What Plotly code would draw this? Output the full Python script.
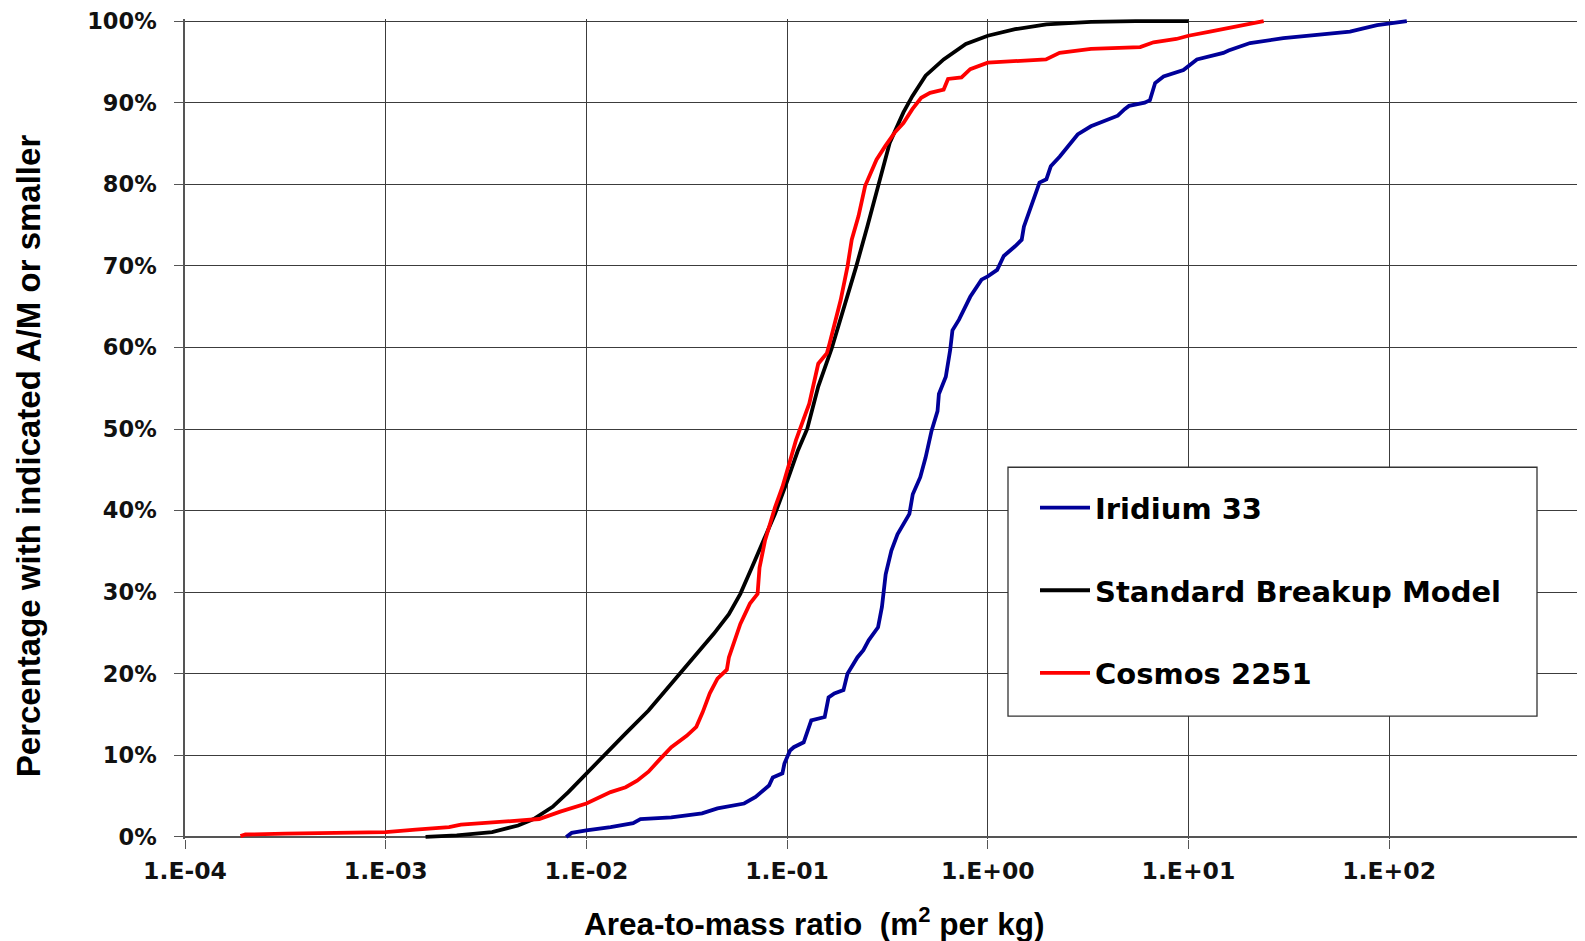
import plotly.graph_objects as go

# ---- data ----
x_tick_vals = [1e-4, 1e-3, 1e-2, 1e-1, 1e0, 1e1, 1e2]
x_tick_text = ["1.E-04", "1.E-03", "1.E-02", "1.E-01", "1.E+00", "1.E+01", "1.E+02"]
y_tick_vals = [0, 10, 20, 30, 40, 50, 60, 70, 80, 90, 100]
y_tick_text = ["0%", "10%", "20%", "30%", "40%", "50%", "60%", "70%", "80%", "90%", "100%"]

iridium_x = [7.93e-3, 8.45e-3, 1.0e-2, 1.32e-2, 1.71e-2, 1.86e-2, 2.65e-2, 3.77e-2, 4.50e-2,
             6.11e-2, 6.97e-2, 8.13e-2, 8.49e-2, 9.48e-2, 9.70e-2, 0.1035, 0.108, 0.121, 0.132,
             0.154, 0.161, 0.172, 0.191, 0.200, 0.224, 0.240, 0.255, 0.284, 0.297, 0.310, 0.331,
             0.355, 0.407, 0.423, 0.461, 0.490, 0.525, 0.562, 0.571, 0.618, 0.650, 0.667, 0.719,
             0.818, 0.931, 1.0, 1.114, 1.202, 1.368, 1.476, 1.514, 1.637, 1.722, 1.811, 1.959,
             2.061, 2.286, 2.529, 2.805, 3.266, 4.446, 4.808, 5.058, 6.053, 6.427, 6.823, 7.516,
             9.441, 11.02, 14.93, 15.85, 20.28, 29.72, 43.65, 63.83, 74.47, 87.10, 101.2, 122.5]
iridium_y = [0, 0.5, 0.8, 1.2, 1.7, 2.2, 2.4, 2.9, 3.5,
             4.1, 4.9, 6.3, 7.3, 7.8, 9.0, 10.6, 11.0, 11.6, 14.3,
             14.7, 17.1, 17.6, 18.0, 20.0, 22.0, 22.9, 24.1, 25.7, 28.2, 32.2, 35.1,
             37.1, 39.6, 42.0, 44.1, 46.5, 49.8, 52.2, 54.3, 56.4, 59.7, 62.1, 63.4,
             66.2, 68.3, 68.7, 69.5, 71.2, 72.4, 73.2, 74.8, 77.3, 78.9, 80.2, 80.6,
             82.2, 83.4, 84.7, 86.1, 87.1, 88.4, 89.2, 89.6, 90.0, 90.3, 92.4, 93.2,
             94.0, 95.3, 96.1, 96.4, 97.3, 97.9, 98.3, 98.7, 99.1, 99.5, 99.7, 100]

model_x = [1.58e-3, 2.26e-3, 3.39e-3, 4.57e-3, 5.46e-3, 6.79e-3, 8.13e-3, 1.0e-2, 1.20e-2,
           1.57e-2, 2.04e-2, 2.65e-2, 3.47e-2, 4.31e-2, 5.13e-2, 5.85e-2, 6.67e-2, 7.62e-2,
           8.71e-2, 9.91e-2, 0.113, 0.126, 0.143, 0.167, 0.195, 0.221, 0.251, 0.286, 0.325,
           0.380, 0.421, 0.490, 0.603, 0.778, 1.0, 1.37, 1.96, 3.27, 5.46, 10.0]
model_y = [0, 0.2, 0.6, 1.4, 2.2, 3.7, 5.5, 7.8, 9.8,
           12.7, 15.5, 18.8, 22.2, 24.9, 27.3, 29.8, 33.0, 36.3,
           39.6, 43.3, 47.3, 50.0, 55.2, 59.9, 65.4, 69.9, 74.8, 80.2, 85.1,
           88.8, 90.8, 93.3, 95.3, 97.2, 98.2, 99.0, 99.6, 99.9, 100, 100]

cosmos_x = [1.89e-4, 2.0e-4, 3.16e-4, 5.01e-4, 1.0e-3, 1.41e-3, 2.07e-3, 2.37e-3, 3.52e-3,
            5.82e-3, 7.41e-3, 1.0e-2, 1.32e-2, 1.57e-2, 1.79e-2, 2.04e-2, 2.34e-2, 2.65e-2,
            3.16e-2, 3.53e-2, 3.80e-2, 4.12e-2, 4.50e-2, 5.01e-2, 5.13e-2, 5.85e-2, 6.53e-2,
            7.13e-2, 7.29e-2, 7.76e-2, 8.71e-2, 9.48e-2, 0.1035, 0.1107, 0.120, 0.129, 0.143,
            0.158, 0.163, 0.185, 0.200, 0.210, 0.227, 0.245, 0.251, 0.279, 0.309, 0.343, 0.380,
            0.421, 0.466, 0.516, 0.603, 0.634, 0.740, 0.818, 1.0, 1.95, 2.28, 3.27, 5.75, 6.70,
            8.71, 10.0, 12.8, 17.4, 23.7]
cosmos_y = [0.1, 0.3, 0.4, 0.45, 0.6, 0.9, 1.2, 1.5, 1.8,
            2.2, 3.1, 4.1, 5.5, 6.1, 6.9, 8.0, 9.6, 11.0,
            12.4, 13.5, 15.3, 17.6, 19.4, 20.5, 22.0, 26.1, 28.6,
            29.8, 33.0, 36.3, 40.4, 42.9, 46.1, 48.6, 51.0, 53.1, 58.0,
            59.3, 60.5, 65.8, 69.9, 73.2, 76.1, 79.8, 80.4, 83.0, 84.7, 86.3, 87.5,
            89.2, 90.6, 91.2, 91.6, 92.9, 93.1, 94.1, 94.9, 95.3, 96.1, 96.6, 96.8, 97.4,
            97.8, 98.2, 98.7, 99.4, 100]

series_names = ["Iridium 33", "Standard Breakup Model", "Cosmos 2251"]
series_colors = ["#000099", "#000000", "#ff0000"]

# ---- figure ----
# The page body has an 8px margin, so the figure is 8px smaller than the window.
OFF = 8
W, H = 1585 - OFF, 941 - OFF
ML, MR, MT, MB = 185 - OFF, 0, 18.5 - OFF, 102
plot_w = W - ML - MR          # 1400
plot_h = H - MT - MB          # 820.5
PLOT_LEFT_REF = 185           # in window pixels
PLOT_BOTTOM_REF = 839


def px_x(p):
    return (p - PLOT_LEFT_REF) / plot_w


def px_y(p):
    return (PLOT_BOTTOM_REF - p) / plot_h


fig = go.Figure()
for name, xs, ys, col in zip(series_names,
                             [iridium_x, model_x, cosmos_x],
                             [iridium_y, model_y, cosmos_y],
                             series_colors):
    fig.add_trace(go.Scatter(x=xs, y=ys, mode="lines", name=name, legendgroup=name,
                             line=dict(color=col, width=3.8)))

tick_font_y = dict(family="DejaVu Sans", size=22.5, color="#111", weight="bold")
tick_font_x = dict(family="DejaVu Sans", size=23.5, color="#111", weight="bold")

fig.update_xaxes(type="log", range=[-4, 2.976], tickvals=x_tick_vals, ticktext=x_tick_text,
                 showgrid=True, gridcolor="#3c3c3c", gridwidth=1.4,
                 showline=False, zeroline=False,
                 ticks="outside", ticklen=9, tickcolor="#555", tickwidth=1.3,
                 tickfont=tick_font_x, ticklabelstandoff=2, ticklabeloverflow="allow")
fig.update_yaxes(range=[-0.25, 100.25], tickvals=y_tick_vals, ticktext=y_tick_text,
                 showgrid=True, gridcolor="#3c3c3c", gridwidth=1.4,
                 zeroline=True, zerolinecolor="#555", zerolinewidth=1.6,
                 showline=True, linecolor="#555", linewidth=1.6,
                 ticks="outside", ticklen=9, tickcolor="#555", tickwidth=1.3,
                 tickfont=tick_font_y, ticklabelstandoff=13, ticklabeloverflow="allow")

# legend frame (box drawn under the legend entries)
fig.add_shape(type="rect", xref="paper", yref="paper",
              x0=px_x(1008), x1=px_x(1537), y0=px_y(716), y1=px_y(467),
              fillcolor="white", line=dict(color="#333", width=1.3), layer="above")

fig.add_annotation(text="<b>Percentage with indicated A/M or smaller</b>", textangle=-90,
                   xref="paper", yref="paper", x=px_x(28), y=px_y(456),
                   xanchor="center", yanchor="middle", showarrow=False,
                   font=dict(family="Liberation Sans, Arial, sans-serif",
                             size=33, color="#000"))
fig.add_annotation(text="<b>Area-to-mass ratio\u00a0 (m<sup>2</sup> per kg)</b>",
                   xref="paper", yref="paper", x=px_x(814), y=px_y(922),
                   xanchor="center", yanchor="middle", showarrow=False,
                   font=dict(family="Liberation Sans, Arial, sans-serif", size=31.5, color="#000"))

fig.update_layout(
    width=W, height=H,
    margin=dict(l=ML, r=MR, t=MT, b=MB, pad=0),
    paper_bgcolor="white", plot_bgcolor="white",
    showlegend=True,
    legend=dict(x=px_x(1035), y=px_y(482), xanchor="left", yanchor="top",
                bgcolor="rgba(0,0,0,0)", borderwidth=0,
                font=dict(family="DejaVu Sans", size=29, color="#000", weight="bold"),
                traceorder="grouped", tracegroupgap=42, itemwidth=50),
)

fig.write_html("out.html")
